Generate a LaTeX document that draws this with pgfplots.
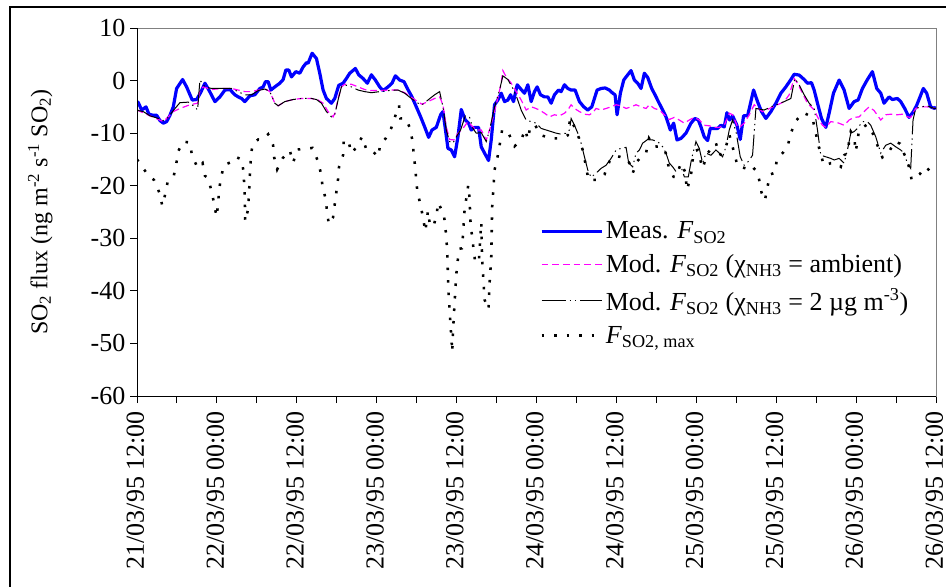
\documentclass[border=0pt]{standalone}
\usepackage{fontspec}
\setmainfont{Liberation Serif}
\usepackage{pgfplots}
\pgfplotsset{compat=1.18}
\usepackage{pgfplotstable}
\definecolor{measblue}{RGB}{0,0,255}
\definecolor{modmag}{RGB}{255,0,255}
\definecolor{boxgray}{RGB}{128,128,128}

\pgfplotstableread{
h v
0 -4.0
0.2 -4.2
0.7 -5.6
1.35 -5.0
1.8 -6.4
2.45 -6.6
2.95 -6.6
3.45 -7.6
3.95 -8.1
4.45 -7.8
4.95 -6.6
5.45 -5.0
5.95 -1.5
6.85 0.2
7.45 -1.2
8.3 -3.7
8.95 -3.6
9.55 -2.3
10.2 -0.5
10.8 -1.8
11.7 -4.0
12.45 -3.1
13.2 -1.8
13.95 -1.7
14.7 -2.7
15.2 -3.1
15.7 -3.4
16.2 -4.0
16.95 -2.9
17.7 -2.7
18.45 -1.5
18.95 -1.2
19.3 -0.2
19.7 -0.2
20.1 -1.8
20.7 -1.2
21.45 -0.5
21.95 0.2
22.35 2.0
22.8 2.0
23.2 0.7
23.85 1.7
24.45 1.4
24.95 2.6
25.45 3.4
25.7 3.3
26.3 5.2
26.95 4.2
27.45 1.4
27.95 -1.8
28.45 -3.4
29.2 -4.3
29.7 -3.4
30.3 -0.9
30.95 -0.5
31.45 0.4
31.95 1.4
32.8 2.3
33.3 1.1
33.95 0.4
34.6 -0.5
35.2 1.1
35.8 0.1
36.45 -1.2
36.95 -1.9
37.7 -1.2
38.3 -0.5
38.8 0.9
39.45 0.1
40.1 -0.2
40.6 -1.5
41.3 -3.1
41.95 -5.0
42.6 -6.9
43.2 -8.8
43.8 -10.8
44.3 -9.4
44.95 -8.9
45.6 -6.5
45.95 -5.9
46.3 -9.1
46.7 -12.9
47.2 -13.2
47.7 -14.5
48.2 -10.7
48.7 -5.5
49.3 -7.5
49.8 -8.1
50.2 -9.4
50.7 -8.9
51.3 -8.9
51.7 -12.6
52.2 -13.8
52.8 -15.2
53.2 -11.3
53.7 -4.6
54.2 -3.7
54.7 -2.4
55.2 -4.0
55.7 -3.7
56.1 -2.7
56.55 -4.0
57.1 -0.8
57.7 -1.7
58.2 -2.4
58.7 -0.8
59.2 -4.0
59.7 -2.1
60.1 -1.2
60.6 -2.7
61.2 -3.1
61.7 -3.1
62.2 -4.3
62.7 -2.7
63.3 -1.8
63.7 -2.1
64.2 -0.8
64.7 -1.5
65.2 -1.8
65.8 -1.8
66.45 -4.0
67.1 -5.0
67.7 -5.6
68.3 -5.0
69.1 -1.8
69.7 -1.5
70.3 -1.4
70.95 -1.8
71.45 -2.4
71.8 -2.7
72.1 -6.5
72.6 -2.4
73.1 0.1
73.7 1.1
74.2 1.9
74.7 0.1
75.2 -0.5
75.7 -1.5
76.2 1.4
76.7 0.6
77.3 -1.5
77.8 -2.7
78.3 -4.0
78.95 -5.6
79.45 -6.9
80.1 -9.4
80.6 -8.1
81.1 -11.3
81.7 -11.0
82.45 -10.0
83.2 -8.1
83.8 -7.2
84.3 -7.5
84.7 -8.8
85.2 -10.7
85.7 -11.4
86.1 -9.1
86.7 -9.1
87.2 -9.1
87.7 -8.5
88.2 -8.8
88.6 -6.1
89.0 -7.5
89.45 -6.7
90.1 -8.5
90.6 -11.2
91.1 -6.7
91.7 -6.7
92.6 -1.8
93.2 -4.0
93.8 -5.9
94.45 -7.2
95.2 -5.9
95.95 -4.3
96.7 -2.4
97.45 -1.2
98.2 0.2
98.7 1.2
99.45 1.05
100.2 0.2
100.7 -0.5
101.3 -0.4
101.7 -1.8
102.2 -4.3
102.8 -7.2
103.45 -8.9
103.95 -6.2
104.6 -2.4
105.45 0.1
106.2 -1.8
106.95 -5.3
107.7 -4.0
108.3 -3.7
108.95 -1.5
109.7 0.2
110.45 1.7
111.1 -1.5
111.7 -2.4
112.2 -4.3
112.95 -3.1
113.45 -3.6
114.2 -3.4
114.7 -4.0
115.3 -5.3
115.95 -7.0
116.6 -5.9
117.1 -4.7
117.6 -3.1
118.1 -1.5
118.6 -2.4
119.2 -5.0
119.8 -5.3
120 -5.0
}\meas

\pgfplotstableread{
h v
0 -5.5
0.2 -5.7
1.95 -6.7
3.95 -7.8
4.7 -6.9
5.45 -5.9
6.45 -5.3
7.95 -4.6
9.1 -4.3
9.45 -1.8
9.95 -1.2
11.2 -1.7
12.7 -1.5
14.2 -1.5
15.2 -1.8
16.2 -2.1
17.2 -2.1
18.2 -1.8
19.45 -1.7
19.95 -2.1
20.7 -4.3
21.2 -4.8
22.2 -4.0
23.45 -3.6
24.7 -3.4
26.2 -3.4
27.2 -3.7
27.95 -4.3
28.7 -5.9
29.45 -6.9
29.8 -6.0
30.2 -3.4
30.7 -1.2
31.2 -0.7
32.2 -0.7
33.2 -1.2
34.2 -1.7
35.2 -1.9
36.45 -1.9
37.7 -1.8
39.2 -1.8
40.2 -2.3
41.45 -3.4
42.8 -4.5
43.7 -4.0
44.7 -3.4
45.45 -3.1
45.95 -4.6
46.45 -8.8
46.95 -11.2
47.6 -11.3
48.2 -10.0
48.95 -9.1
49.7 -7.8
50.2 -8.5
50.95 -9.4
51.7 -9.4
52.45 -11.3
53.1 -8.8
53.95 -4.6
54.7 -0.5
54.95 1.9
55.45 0.7
56.2 -0.5
57.1 -2.4
57.7 -3.7
58.45 -5.6
59.2 -5.0
59.7 -5.2
60.45 -5.6
61.2 -6.2
61.95 -6.9
62.7 -6.5
63.45 -6.7
64.2 -6.2
64.7 -5.6
65.2 -4.6
65.7 -5.3
66.45 -5.9
67.2 -6.4
67.95 -6.5
68.45 -6.1
68.95 -5.3
69.7 -5.6
70.45 -5.3
71.2 -5.0
71.95 -4.6
72.7 -4.8
73.45 -5.3
74.2 -5.0
74.95 -4.6
75.7 -5.0
76.45 -5.3
76.95 -4.6
77.7 -5.3
78.45 -5.6
79.2 -6.5
79.95 -7.4
80.7 -7.0
81.45 -7.5
82.2 -8.1
82.95 -7.5
83.7 -7.0
84.45 -7.5
85.2 -8.5
85.95 -8.6
86.7 -8.9
87.45 -8.9
88.2 -8.5
88.95 -6.2
89.45 -6.5
90.2 -8.8
90.45 -8.9
91.2 -8.1
91.95 -6.5
92.7 -4.6
93.3 -5.3
93.95 -5.9
94.7 -5.5
95.45 -5.0
96.2 -4.6
97.2 -4.0
97.95 -2.7
98.7 0.4
99.2 -0.5
99.95 -2.4
100.7 -4.3
101.7 -5.6
102.45 -7.5
102.95 -8.5
103.45 -8.9
104.2 -7.8
105.2 -8.0
106.2 -8.5
106.95 -7.5
107.7 -7.0
108.45 -6.9
109.2 -5.9
109.95 -5.0
110.7 -5.7
111.7 -7.5
112.45 -6.5
113.2 -6.4
114.2 -6.5
114.95 -6.4
115.7 -6.9
116.2 -7.0
116.95 -5.3
117.7 -5.0
118.7 -5.0
119.7 -5.3
120 -5.3
}\modamb

\pgfplotstableread{
h v
0 -5.5
0.2 -5.7
0.95 -5.9
1.95 -6.7
3.2 -7.2
3.95 -7.6
4.7 -7.0
5.45 -5.7
6.45 -4.2
7.7 -4.1
8.7 -5.0
9.1 -5.6
9.45 0.1
10.2 -1.2
11.2 -1.5
12.7 -1.5
14.2 -1.5
15.2 -2.1
16.2 -2.7
17.2 -2.7
18.2 -1.9
19.2 -1.6
19.95 -2.1
20.7 -4.3
21.2 -4.8
22.2 -4.0
23.45 -3.6
24.7 -3.4
26.2 -3.4
26.95 -3.6
27.7 -4.3
28.45 -5.9
29.2 -6.9
29.7 -6.5
30.2 -3.7
30.7 -1.2
31.2 -0.8
32.2 -1.2
33.2 -1.8
34.2 -2.1
35.2 -2.3
36.45 -2.1
37.7 -1.9
39.2 -1.8
40.2 -2.4
41.2 -3.4
42.2 -4.3
42.8 -4.6
43.7 -3.7
44.7 -2.7
45.45 -2.1
45.95 -5.0
46.45 -9.4
46.95 -11.6
47.45 -11.9
47.95 -10.7
48.6 -9.4
49.3 -6.7
49.95 -7.0
50.45 -9.1
50.95 -10.0
51.7 -9.9
52.45 -11.6
52.95 -9.4
53.7 -5.0
54.45 -1.8
54.95 0.9
55.7 0.2
56.45 -1.5
57.1 -3.4
57.7 -5.6
58.45 -7.5
59.2 -7.8
59.95 -8.1
60.7 -9.1
61.45 -9.4
62.2 -9.7
62.95 -10.0
63.7 -10.2
64.45 -10.0
64.95 -9.4
65.2 -7.2
65.7 -8.5
66.2 -10.0
66.7 -11.9
67.2 -14.5
67.7 -17.0
68.2 -18.4
68.95 -17.6
69.7 -16.7
70.45 -16.1
71.2 -14.8
71.95 -13.2
72.7 -12.9
73.45 -12.7
73.85 -15.7
74.45 -16.4
74.95 -13.8
75.45 -13.2
75.95 -11.9
76.7 -11.2
77.45 -11.3
78.2 -11.6
78.95 -12.6
79.45 -13.8
79.95 -15.7
80.45 -16.4
80.95 -17.3
81.7 -16.4
82.2 -18.3
82.8 -18.3
83.3 -14.8
83.95 -11.6
84.45 -12.9
84.95 -15.7
85.45 -13.8
86.2 -14.2
86.95 -13.2
87.45 -13.8
87.95 -14.5
88.45 -12.6
88.95 -9.4
89.45 -7.5
90.0 -10.0
90.6 -14.5
91.2 -16.1
91.8 -15.4
92.45 -14.2
92.95 -5.3
94.2 -5.6
95.2 -5.0
96.2 -4.5
97.2 -4.0
98.2 -3.4
98.8 0.4
99.45 -0.8
100.2 -2.7
100.95 -4.3
101.7 -5.3
102.2 -9.4
102.7 -14.2
103.45 -14.5
104.2 -14.8
104.7 -15.1
105.45 -14.8
106.2 -15.7
106.7 -13.2
107.2 -10.0
107.7 -9.7
108.2 -9.1
108.95 -7.8
109.7 -7.8
110.2 -8.5
110.95 -10.7
111.7 -13.8
112.45 -12.3
113.2 -11.9
113.95 -12.6
114.7 -13.2
115.2 -13.8
115.7 -15.7
116.2 -16.7
116.55 -7.5
116.95 -5.3
117.7 -5.0
118.7 -4.8
119.7 -5.3
120 -5.3
}\modtwo

\pgfplotstableread{
h v
0 -15.0
0.35 -15.6
1.55 -17.8
2.55 -18.9
3.35 -21.3
3.8 -23.8
4.2 -21.8
4.6 -19.3
5.5 -18.3
5.9 -15.8
6.2 -13.4
6.95 -11.6
7.95 -11.8
8.25 -14.2
9.1 -16.6
9.85 -15.7
10.2 -18.1
10.7 -18.6
11.3 -21.6
11.95 -25.9
12.2 -23.3
12.3 -21.0
12.6 -18.6
13.05 -16.1
13.95 -15.6
14.8 -14.5
15.7 -15.0
16.0 -17.3
16.2 -22.3
16.25 -26.8
16.7 -24.4
16.9 -19.4
17.1 -14.5
17.35 -12.1
18.2 -11.2
18.7 -11.3
19.7 -10.2
20.45 -12.3
20.6 -14.6
21.05 -16.9
21.85 -14.8
22.95 -13.3
23.45 -15.6
24.1 -13.1
25.45 -13.0
26.35 -12.8
27.1 -15.1
27.6 -17.5
27.85 -19.9
28.3 -22.4
28.55 -24.9
28.8 -27.3
29.45 -26.0
29.7 -23.5
29.95 -21.1
30.2 -18.7
30.35 -16.3
30.95 -14.2
31.05 -11.6
31.7 -11.2
32.2 -13.8
32.95 -12.7
33.8 -10.7
34.45 -13.1
35.3 -13.3
36.2 -14.5
36.55 -12.1
37.35 -11.0
38.2 -9.0
38.8 -6.7
39.35 -4.7
39.55 -7.2
40.35 -7.2
40.95 -8.9
41.35 -11.3
41.75 -16.2
42.1 -21.1
42.55 -23.5
42.95 -26.0
43.3 -28.7
43.7 -24.8
44.0 -27.5
44.55 -27.7
45.05 -25.1
45.2 -23.2
46.05 -25.3
46.3 -27.5
46.45 -30.0
46.6 -32.4
46.75 -39.7
47.0 -44.6
47.35 -51.6
47.5 -46.7
47.95 -36.9
48.15 -34.4
48.4 -32.0
48.8 -31.9
48.95 -29.5
49.2 -24.6
49.75 -19.9
49.95 -22.4
50.1 -27.2
50.55 -32.1
50.8 -34.6
51.35 -34.4
51.7 -27.0
51.85 -34.3
52.2 -41.7
52.8 -43.5
52.95 -38.6
53.2 -33.7
53.35 -23.9
53.7 -17.0
54.2 -14.2
54.55 -11.6
54.85 -9.3
55.8 -10.0
56.7 -12.5
57.7 -11.3
58.3 -9.3
58.7 -11.2
59.1 -8.6
59.8 -8.5
60.7 -10.4
62.2 -11.0
63.2 -11.0
64.1 -10.8
64.7 -10.4
65.05 -7.2
65.7 -8.8
66.2 -10.4
66.7 -11.9
67.1 -14.2
67.45 -16.4
67.8 -18.9
68.45 -18.9
69.1 -18.9
70.2 -17.9
70.95 -15.4
71.7 -14.4
72.6 -14.5
73.45 -14.8
73.95 -15.7
74.45 -17.6
75.1 -15.4
75.7 -14.5
76.45 -13.8
76.9 -11.0
77.6 -12.5
78.7 -12.6
79.3 -13.2
79.85 -16.4
80.6 -18.3
80.95 -18.3
81.7 -15.7
82.3 -17.3
82.6 -20.8
83.2 -18.0
83.6 -13.5
84.2 -13.2
84.95 -16.7
85.7 -13.8
86.95 -11.9
87.45 -14.2
87.95 -13.8
88.45 -12.6
88.95 -10.2
89.7 -13.8
90.2 -16.3
91.45 -16.7
92.2 -16.1
93.1 -17.3
93.45 -18.9
93.8 -21.3
94.3 -22.8
94.7 -20.2
95.05 -17.9
95.8 -17.5
96.1 -15.0
96.95 -13.8
97.7 -12.7
98.1 -10.4
98.85 -7.8
100.05 -6.1
101.4 -6.9
101.9 -9.7
102.25 -11.8
102.6 -13.7
103.2 -16.2
104.2 -15.7
104.95 -15.7
105.7 -16.4
106.2 -14.2
106.7 -13.8
106.95 -11.6
107.2 -9.7
107.7 -10.7
107.95 -13.5
108.45 -9.4
109.6 -8.4
110.45 -9.9
111.3 -12.6
111.95 -14.6
112.95 -13.5
113.85 -11.6
114.6 -12.0
115.3 -14.2
115.7 -15.1
116.35 -18.9
117.55 -17.8
118.45 -16.4
119.55 -17.8
120 -17.5
}\fmax

\begin{document}
\begin{tikzpicture}
\useasboundingbox (0,0) rectangle (709.5pt,-439.5pt);
\draw[line width=1.5pt] (7.5pt,-445pt) -- (7.5pt,-5.25pt) -- (715pt,-5.25pt);
\begin{axis}[
  at={(102.75pt,-297pt)}, anchor=south west,
  scale only axis, width=599.25pt, height=276pt,
  xmin=0, xmax=120, ymin=-60, ymax=10,
  xtick={0,12,...,120},
  xticklabels={21/03/95 12:00,22/03/95 00:00,22/03/95 12:00,23/03/95 00:00,23/03/95 12:00,24/03/95 00:00,24/03/95 12:00,25/03/95 00:00,25/03/95 12:00,26/03/95 00:00,26/03/95 12:00},
  minor xtick={6,18,...,114},
  ytick={-60,-50,...,10},
  yticklabels={-60,-50,-40,-30,-20,-10,0,10},
  tick align=outside,
  xtick pos=left, ytick pos=left,
  major tick length=5.25pt, minor tick length=5.25pt,
  tick style={black, line width=0.75pt},
  axis line style={boxgray, line width=0.75pt},
  clip mode=individual,
  xticklabel style={yshift=-6pt, xshift=-1.2pt, rotate=90, anchor=east, inner sep=0pt, font=\fontsize{19.5}{22}\selectfont},
  yticklabel style={font=\fontsize{19.5}{22}\selectfont},
  ylabel={SO\textsubscript{2} flux (ng m\textsuperscript{-2} s\textsuperscript{-1} SO\textsubscript{2})},
  ylabel style={at={(axis description cs:-0.121,0.5)}, anchor=center, font=\fontsize{18}{20}\selectfont},
  legend style={draw=none, fill=none, at={(axis description cs:0.504,0.481)}, anchor=north west,
    font=\fontsize{19.5}{23}\selectfont, inner sep=0pt, row sep=6.25pt},
  legend cell align=left,
  legend image code/.code={\draw[#1] (0pt,0pt) -- (45pt,0pt);},
]
\addplot[measblue, line width=2.4pt, line join=round] table[x=h,y=v]{\meas};
\addlegendentry{Meas. \textit{F}\textsubscript{SO2}}
\addplot[modmag, line width=0.9pt, dash pattern=on 5pt off 3pt] table[x=h,y=v]{\modamb};
\addlegendentry{Mod. \textit{F}\textsubscript{SO2} (χ\textsubscript{NH3} = ambient)}
\addplot[black, line width=0.75pt, dash pattern=on 18pt off 3pt on 1pt off 3pt on 1pt off 3pt] table[x=h,y=v]{\modtwo};
\addlegendentry{Mod. \textit{F}\textsubscript{SO2} (χ\textsubscript{NH3} = 2 µg m\textsuperscript{-3})}
\addplot[black, line width=1.9pt, dash pattern=on 1.9pt off 7.5pt] table[x=h,y=v]{\fmax};
\addlegendentry{\textit{F}\textsubscript{SO2, max}}
\draw[black, line width=0.75pt] (rel axis cs:0,1) -- (rel axis cs:0,0) -- (rel axis cs:1,0);
\end{axis}
\end{tikzpicture}
\end{document}
